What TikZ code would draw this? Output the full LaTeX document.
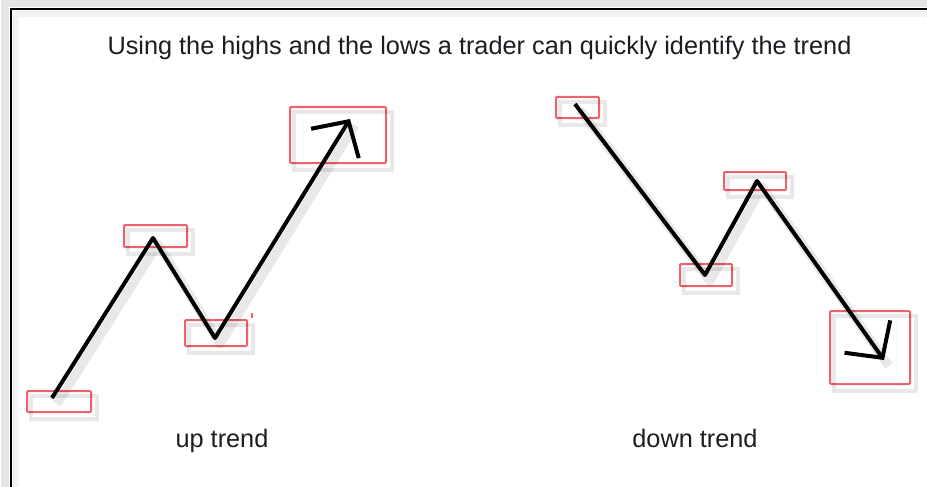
\documentclass[tikz,border=0pt]{standalone}
\usepackage{fontspec}
\setmainfont{Liberation Sans}
\usetikzlibrary{arrows.meta}
\definecolor{boxred}{RGB}{238,96,106}
\definecolor{ink}{RGB}{28,28,34}
\tikzset{
  trend/.style={line width=4pt, black, line join=round},
  trendtip/.style={-{Straight Barb[length=26pt,width=56pt]}},
  hlbox/.style={draw=boxred, line width=2pt, rounded corners=1pt, inner sep=0pt},
  softshade/.style={transform canvas={shift={(5pt,-6pt)}}, black, opacity=.09},
  caption/.style={font=\fontsize{25.3}{30}\selectfont, text=ink, anchor=base, inner sep=0pt}
}
\begin{document}
\begin{tikzpicture}[x=1pt,y=-1pt]
\useasboundingbox (0,0) rectangle (927,487);
% frame:
\path[fill=white] (0,0) rectangle (927,487);
\draw[black!10, line width=8pt] (5,495) -- (5,3) -- (935,3);
\draw[black!5, line width=6pt] (16,495) -- (16,14) -- (935,14);
\draw[black, line width=2pt] (11,495) -- (11,9) -- (935,9);
% turning points:
\coordinate (u1) at (52,398);
\coordinate (u2) at (153,238);
\coordinate (u3) at (215,338);
\coordinate (u4) at (350,119);
\coordinate (d1) at (575,104);
\coordinate (d2) at (705,275);
\coordinate (d3) at (757,181);
\coordinate (d4) at (884,360);
% highlight boxes:
\node[hlbox, minimum width=64pt, minimum height=21pt] (uplow1) at (59,401.5) {};
\node[hlbox, minimum width=63pt, minimum height=22pt] (uphigh1) at (155.5,236) {};
\node[hlbox, minimum width=62pt, minimum height=26pt] (uplow2) at (216,333) {};
\node[hlbox, minimum width=96pt, minimum height=56pt] (uphigh2) at (338,135) {};
\node[hlbox, minimum width=43pt, minimum height=21pt] (downhigh1) at (577.5,107.5) {};
\node[hlbox, minimum width=52pt, minimum height=22pt] (downlow1) at (706,275) {};
\node[hlbox, minimum width=62pt, minimum height=18pt] (downhigh2) at (755,181) {};
\node[hlbox, minimum width=80pt, minimum height=73pt] (downlow2) at (870,347.5) {};
\draw[boxred, line width=1.5pt] (252,313) -- (252,318);
% shadows:
\draw[softshade, line width=9pt, line join=round] (u1) -- (u2) -- (u3) -- (u4);
\draw[softshade, line width=9pt, line join=round] (d1) -- (d2) -- (d3) -- (d4);
\draw[softshade, line width=4pt] (uplow1.north west) rectangle (uplow1.south east);
\draw[softshade, line width=4pt] (uphigh1.north west) rectangle (uphigh1.south east);
\draw[softshade, line width=4pt] (uplow2.north west) rectangle (uplow2.south east);
\draw[softshade, line width=4pt] (uphigh2.north west) rectangle (uphigh2.south east);
\draw[softshade, line width=4pt] (downhigh1.north west) rectangle (downhigh1.south east);
\draw[softshade, line width=4pt] (downlow1.north west) rectangle (downlow1.south east);
\draw[softshade, line width=4pt] (downhigh2.north west) rectangle (downhigh2.south east);
\draw[softshade, line width=4pt] (downlow2.north west) rectangle (downlow2.south east);
% trend lines:
\draw[trend, trendtip] (u1) -- (u2) -- (u3) -- (u4);
\draw[trend, trendtip] (d1) -- (d2) -- (d3) -- (d4);
% texts:
\node[caption] (title) at (479.5,55) {Using the highs and the lows a trader can quickly identify the trend};
\node[caption] (uplabel) at (222,447) {up trend};
\node[caption] (downlabel) at (695,447) {down trend};
\end{tikzpicture}
\end{document}
